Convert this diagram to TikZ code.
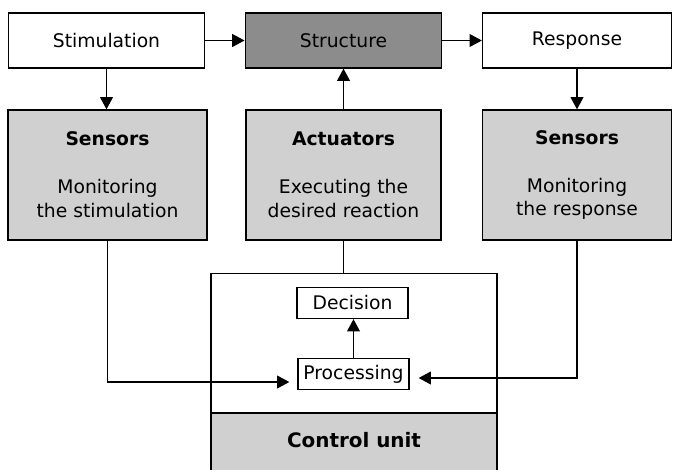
\documentclass[tikz,border=0pt]{standalone}
\usepackage{fontspec}
\setmainfont{DejaVu Sans}
\usetikzlibrary{arrows.meta, positioning}
\definecolor{lightgrey}{RGB}{208,208,208}
\definecolor{darkgrey}{RGB}{140,140,140}

\begin{document}
\begin{tikzpicture}[
  x=0.03cm, y=-0.03cm,
  box/.style={draw, rectangle, minimum width=5.9cm, minimum height=1.65cm, inner sep=0pt},
  greybox/.style={box, fill=lightgrey, minimum height=3.9cm, align=center},
  smallbox/.style={draw, fill=white, minimum width=3.33cm, minimum height=0.93cm, inner sep=0pt},
  arr/.style={-{Triangle[length=10.5pt,width=11pt]}},
  line width=1.1pt, font=\fontsize{16}{20.4}\selectfont]

  \useasboundingbox (0,0) rectangle (674,469);

  % top row
  \node[box] (stim) at (106.5,40.5) {Stimulation};
  \node[box, fill=darkgrey] (struct) at (343.5,40.5) {Structure};
  \node[box, minimum width=5.67cm] (resp) at (577,40.5) {Response};

  % middle row
  \node[greybox, minimum width=5.97cm] (sensL) at (107.5,175)
    {\textbf{Sensors}\\[0.72cm]Monitoring\\the stimulation};
  \node[greybox, minimum width=5.85cm] (act) at (343.5,175)
    {\textbf{Actuators}\\[0.72cm]Executing the\\desired reaction};
  \node[greybox, minimum width=5.67cm] (sensR) at (577,175)
    {\textbf{Sensors}\\[0.72cm]Monitoring\\the response};

  % control unit
  \node[fill=lightgrey, minimum width=8.58cm, minimum height=2.2cm, anchor=north] (cu) at (354,413) {};
  \node[draw, minimum width=8.58cm, minimum height=6.2cm, anchor=north] (ctrl) at (354,273) {};
  \draw (cu.north west) -- (cu.north east);
  \node[font=\fontsize{17}{20.4}\selectfont\bfseries] (cutitle) at (354,440) {Control unit};
  \node[smallbox] (dec) at (352.5,303) {Decision};
  \node[smallbox] (proc) at (353.5,374) {Processing};

  % connectors
  \draw[arr] (stim) -- (struct);
  \draw[arr] (struct) -- (resp);
  \draw[arr] (stim.south) -- (stim.south |- sensL.north);
  \draw[arr] (resp.south) -- (resp.south |- sensR.north);
  \draw[arr] (act) -- (struct);
  \draw (act.south) -- (act.south |- ctrl.north);
  \draw[arr] (proc.north) -- (proc.north |- dec.south);
  \draw[arr, shorten >=0.24cm] (sensL.south) |- ([yshift=-0.24cm]proc.west);
  \draw[arr, shorten >=0.27cm] (sensR.south) |- ([yshift=-0.12cm]proc.east);
\end{tikzpicture}
\end{document}
